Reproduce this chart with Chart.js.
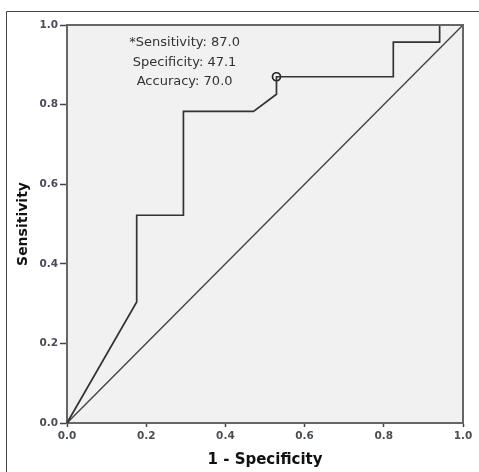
<!DOCTYPE html>
<html>
<head>
<meta charset="utf-8">
<script src="https://cdn.jsdelivr.net/npm/chart.js@4.4.0/dist/chart.umd.min.js"></script>
<style>
  html, body { margin: 0; padding: 0; background: #fff; }
  #wrap { width: 479px; height: 472px; position: relative; }
</style>
</head>
<body>
<div id="wrap"><canvas id="rocChart"></canvas></div>
<script>
// ROC curve points (1 - specificity, sensitivity)
const rocFpr = [0, 0.176, 0.176, 0.294, 0.294, 0.471, 0.529, 0.529, 0.824, 0.824, 0.941, 0.941, 1.0];
const rocTpr = [0, 0.304, 0.522, 0.522, 0.783, 0.783, 0.826, 0.870, 0.870, 0.957, 0.957, 1.0, 1.0];

// reference diagonal
const diagFpr = [0, 1];
const diagTpr = [0, 1];

// chosen cut-off
const cutoffFpr = [0.529];
const cutoffTpr = [0.870];

// annotation text and where it sits (data units)
const noteLines = ["*Sensitivity: 87.0", "Specificity: 47.1", "Accuracy: 70.0"];
const noteX = 0.297;
const noteY = [0.955, 0.906, 0.857];

const tickValues = [0, 0.2, 0.4, 0.6, 0.8, 1.0];

const toPoints = (xs, ys) => xs.map((x, i) => ({ x: x, y: ys[i] }));

// background, frame and text note
const framePlugin = {
  id: "frame",
  beforeDraw(chart) {
    const ctx = chart.ctx;
    const a = chart.chartArea;
    ctx.save();
    // outer figure frame (top + left only visible)
    ctx.strokeStyle = "#444";
    ctx.lineWidth = 1;
    ctx.beginPath();
    ctx.moveTo(6.5, chart.height);
    ctx.lineTo(6.5, 11.5);
    ctx.lineTo(chart.width, 11.5);
    ctx.stroke();
    // plot background
    ctx.fillStyle = "#f1f1f1";
    ctx.fillRect(a.left, a.top, a.right - a.left, a.bottom - a.top);
    ctx.restore();
  },
  afterDatasetsDraw(chart) {
    const ctx = chart.ctx;
    const a = chart.chartArea;
    ctx.save();
    ctx.strokeStyle = "#666";
    ctx.lineWidth = 2;
    ctx.beginPath();
    ctx.moveTo(a.left, a.top);
    ctx.lineTo(a.right, a.top);
    ctx.lineTo(a.right, a.bottom);
    ctx.stroke();

    const xs = chart.scales.x;
    const ys = chart.scales.y;
    ctx.fillStyle = "#333";
    ctx.font = "13px 'DejaVu Sans'";
    ctx.textAlign = "center";
    ctx.textBaseline = "middle";
    noteLines.forEach((t, i) => {
      ctx.fillText(t, xs.getPixelForValue(noteX), ys.getPixelForValue(noteY[i]));
    });
    ctx.restore();
  }
};

const tickFont = { family: "'DejaVu Sans', sans-serif", size: 10.5, weight: "bold" };

new Chart(document.getElementById("rocChart"), {
  type: "scatter",
  data: {
    datasets: [
      {
        label: "ROC",
        data: toPoints(rocFpr, rocTpr),
        showLine: true,
        borderColor: "#333",
        borderWidth: 1.7,
        pointRadius: 0,
        tension: 0,
        clip: false
      },
      {
        label: "Reference",
        data: toPoints(diagFpr, diagTpr),
        showLine: true,
        borderColor: "#444",
        borderWidth: 1.4,
        pointRadius: 0,
        tension: 0,
        clip: false
      },
      {
        label: "Cut-off",
        data: toPoints(cutoffFpr, cutoffTpr),
        showLine: false,
        pointRadius: 4,
        pointBorderWidth: 1.7,
        pointBorderColor: "#222",
        pointBackgroundColor: "rgba(0,0,0,0)",
        clip: false
      }
    ]
  },
  options: {
    responsive: true,
    maintainAspectRatio: false,
    animation: false,
    layout: { padding: { left: 6, right: 16, top: 25, bottom: 0 } },
    plugins: {
      legend: { display: false },
      tooltip: { enabled: false }
    },
    scales: {
      x: {
        type: "linear",
        min: 0,
        max: 1,
        afterBuildTicks: (scale) => { scale.ticks = tickValues.map((v) => ({ value: v })); },
        afterFit: (scale) => { scale.height = 49; },
        ticks: {
          font: tickFont,
          color: "#4a4d58",
          padding: 3,
          maxRotation: 0,
          callback: (v) => Number(v).toFixed(1)
        },
        grid: { drawOnChartArea: false, drawTicks: true, tickLength: 4, tickColor: "#444", tickWidth: 1.5 },
        border: { color: "#666", width: 2 },
        title: {
          display: true,
          text: "1 - Specificity",
          font: { family: "'DejaVu Sans', sans-serif", size: 15, weight: "bold" },
          color: "#111",
          padding: { top: 0, bottom: 3 }
        }
      },
      y: {
        type: "linear",
        min: 0,
        max: 1,
        afterBuildTicks: (scale) => { scale.ticks = tickValues.map((v) => ({ value: v })); },
        afterFit: (scale) => { scale.width = 61; },
        ticks: {
          font: tickFont,
          color: "#4a4d58",
          padding: 2,
          callback: (v) => Number(v).toFixed(1)
        },
        grid: { drawOnChartArea: false, drawTicks: true, tickLength: 7, tickColor: "#444", tickWidth: 1.5 },
        border: { color: "#666", width: 2 },
        title: {
          display: true,
          text: "Sensitivity",
          font: { family: "'DejaVu Sans', sans-serif", size: 14, weight: "bold" },
          color: "#111",
          padding: { top: 9, bottom: 0 }
        }
      }
    }
  },
  plugins: [framePlugin]
});
</script>
</body>
</html>
